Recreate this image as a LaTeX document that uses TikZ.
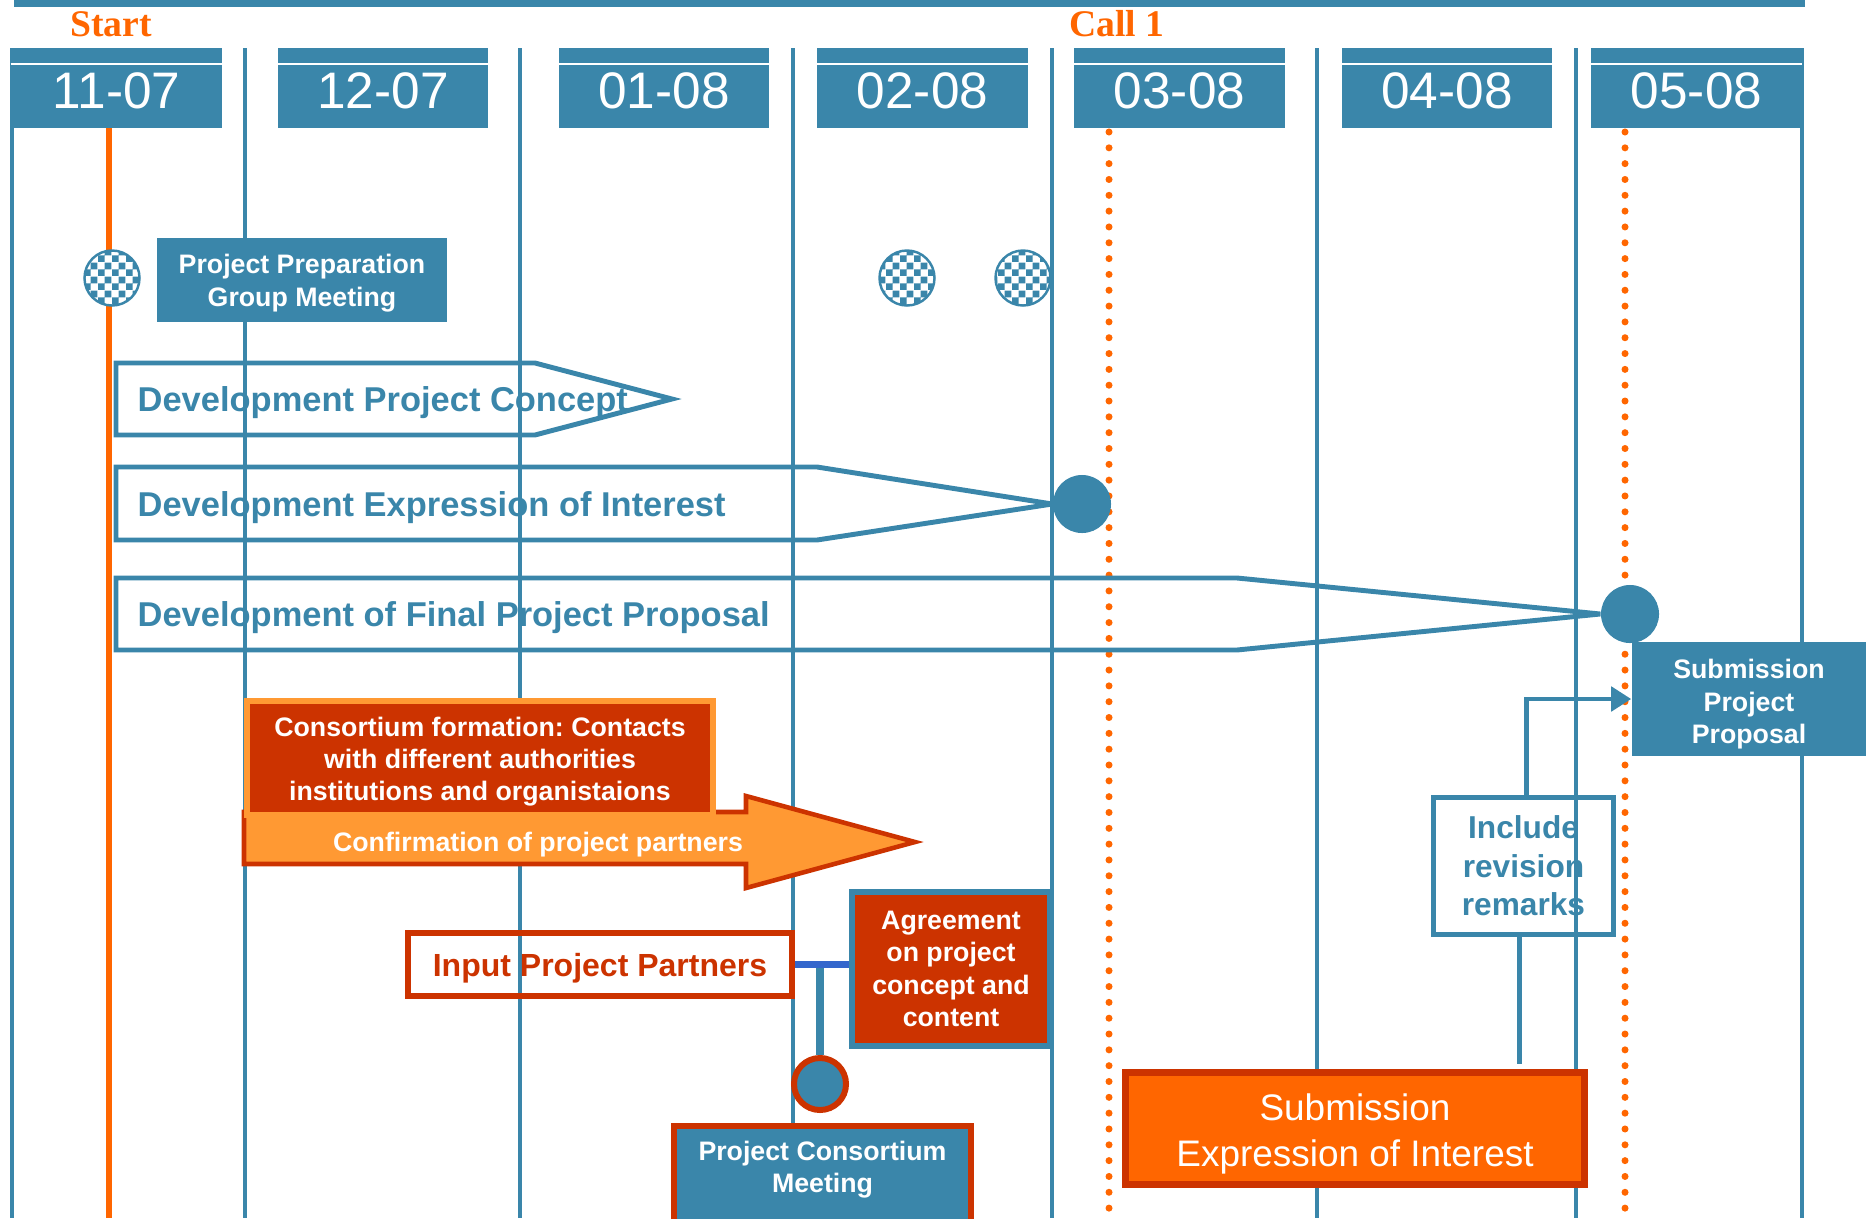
\documentclass[tikz,border=0pt]{standalone}
\usepackage{fontspec}
\setmainfont{Liberation Sans}
\newfontfamily\timesfont{Liberation Serif}
\usetikzlibrary{arrows.meta,calc,patterns}
\frenchspacing
\definecolor{steel}{RGB}{58,134,170}
\definecolor{flame}{RGB}{255,102,0}
\definecolor{brick}{RGB}{204,51,0}
\definecolor{apricot}{RGB}{255,153,51}
\definecolor{royal}{RGB}{51,102,204}
\pgfdeclarepatternformonly{finechecks}{\pgfpointorigin}{\pgfqpoint{4pt}{4pt}}{\pgfqpoint{4pt}{4pt}}{%
  \pgfpathrectangle{\pgfpointorigin}{\pgfqpoint{2pt}{2pt}}%
  \pgfpathrectangle{\pgfqpoint{2pt}{2pt}}{\pgfqpoint{2pt}{2pt}}%
  \pgfusepath{fill}}

\begin{document}
\begin{tikzpicture}[x=0.01cm,y=-0.01cm,
  month/.style={rectangle,fill=steel,text=white,minimum width=2.1cm,minimum height=0.8cm,inner sep=0pt,text height=11.9pt,text depth=0pt,font=\fontsize{14.6}{16}\selectfont},
  calltext/.style={text=flame,inner sep=0pt,font=\timesfont\bfseries\fontsize{10.7}{12}\selectfont},
  gridline/.style={steel,line width=0.9pt},
  callline/.style={flame,line width=2pt,line cap=round,dash pattern=on 0pt off 4.5pt},
  checker/.style={circle,draw=steel,line width=0.7pt,minimum size=0.55cm,inner sep=0pt,preaction={fill=white},pattern=finechecks,pattern color=steel},
  bluebox/.style={rectangle,fill=steel,text=white,align=center,inner sep=0pt,font=\bfseries\fontsize{7.6}{9.2}\selectfont},
  devshape/.style={draw=steel,line width=1.4pt},
  devtext/.style={anchor=west,text=steel,inner sep=0pt,font=\bfseries\fontsize{9.8}{11}\selectfont},
  dot/.style={circle,fill=steel,minimum size=0.58cm,inner sep=0pt}]
\useasboundingbox (0,0) rectangle (1876,1218);
\clip (0,0) rectangle (1876,1218);
\fill[steel] (14,0) rectangle (1805,7);
\node[calltext] (start) at (111,24) {Start};
\node[calltext] (call) at (1117,24) {Call 1};
\foreach \x in {12,245,520,793,1052,1317,1576,1802}
  \draw[gridline] (\x,48) -- (\x,1218);
\foreach \x/\m [count=\i] in {116.5/11-07,383/12-07,664/01-08,922.5/02-08,1179.5/03-08,1447/04-08,1696.5/05-08}{
  \node[month] (m\i) at (\x,88) {\m};
  \draw[white,line width=0.5pt] ($(m\i.north west)+(0,17)$) -- ($(m\i.north east)+(0,17)$);
}
\draw[flame,line width=1.7pt] (109,128) -- (109,1218);
\draw[callline] (1109,132) -- (1109,1218);
\draw[callline] (1625,132) -- (1625,1218);

\node[checker] (chk1) at (112,278) {};
\node[checker] (chk2) at (907,278) {};
\node[checker] (chk3) at (1023,278) {};
\node[bluebox,minimum width=2.9cm,minimum height=0.84cm] (prep) at (302,280) {\rule{0pt}{7.3pt}Project Preparation\\Group Meeting};

\node[dot] (eoidot) at (1082,504) {};
\node[dot] (propdot) at (1630,614) {};
\draw[devshape] (116,363) -- (535,363) -- (672,399) -- (535,435) -- (116,435) -- cycle;
\draw[devshape] (116,467) -- (817,467) -- (eoidot.west) -- (817,540) -- (116,540) -- cycle;
\draw[devshape] (116,578) -- (1237,578) -- (propdot.west) -- (1237,650) -- (116,650) -- cycle;
\node[devtext] (concepttxt) at (137,402.5) {Development Project Concept};
\node[devtext] (eoitxt) at (137,507.5) {Development Expression of Interest};
\node[devtext] (finaltxt) at (137,617.5) {Development of Final Project Proposal};

\draw[fill=apricot,draw=brick,line width=1.3pt] (244,812) -- (746,812) -- (746,796) -- (915,842) -- (746,888) -- (746,864) -- (244,864) -- cycle;
\node[text=white,inner sep=0pt,font=\bfseries\fontsize{7.6}{9.2}\selectfont] (confirm) at (538,845) {Confirmation of project partners};
\node[rectangle,fill=brick,draw=apricot,line width=1.7pt,minimum width=4.65cm,minimum height=1.14cm,text=white,align=center,inner sep=0pt,font=\bfseries\fontsize{7.6}{9.2}\selectfont] (consort) at (480,758) {\rule{0pt}{7.6pt}Consortium formation: Contacts\\with different authorities\\institutions and organistaions};

\node[rectangle,draw=brick,line width=1.7pt,minimum width=3.84cm,minimum height=0.63cm,text=brick,inner sep=0pt,text height=8.6pt,text depth=1.9pt,font=\bfseries\fontsize{9.1}{11}\selectfont] (input) at (600,964.5) {Input Project Partners};
\node[rectangle,fill=brick,draw=steel,line width=1.7pt,minimum width=1.98cm,minimum height=1.53cm,text=white,align=center,inner sep=0pt,font=\bfseries\fontsize{7.6}{9.2}\selectfont] (agree) at (951,969) {Agreement\\on project\\concept and\\content};
\node[circle,fill=steel,draw=brick,line width=1.7pt,minimum size=0.52cm,inner sep=0pt] (meet) at (820,1084) {};
\draw[steel,line width=2pt] (meet.north) -- (meet.north |- input.east);
\draw[royal,line width=2pt] (input.east) -- (input.east -| agree.west);
\node[rectangle,fill=steel,draw=brick,line width=1.7pt,minimum width=2.97cm,minimum height=1.2cm] (pcm) at (822.5,1186) {};
\node[bluebox] (pcmtext) at (822.5,1168) {\rule{0pt}{6.4pt}Project Consortium\\Meeting};

\node[rectangle,draw=steel,line width=1.4pt,minimum width=1.8cm,minimum height=1.37cm,text=steel,align=center,inner sep=0pt,font=\bfseries\fontsize{9}{10.9}\selectfont] (incl) at (1523.5,866) {Include\\revision\\remarks};
\node[bluebox,minimum width=2.34cm,minimum height=1.14cm] (subprop) at (1749,699) {\rule{0pt}{8.4pt}Submission\\Project\\Proposal};
\node[rectangle,fill=flame,draw=brick,line width=2pt,minimum width=4.59cm,minimum height=1.12cm,text=white,align=center,inner sep=0pt,font=\fontsize{10.5}{12.9}\selectfont] (subeoi) at (1355,1128.5) {\rule{0pt}{10.7pt}Submission\\Expression of Interest};
\draw[steel,line width=1.4pt,-{Triangle[length=0.2cm,width=0.24cm]}] ([xshift=0.03cm]incl.north) |- (subprop.west);
\draw[steel,line width=1.4pt,shorten >=0.05cm] ([xshift=-0.04cm]incl.south) -- ([xshift=-0.04cm]incl.south |- subeoi.north);
\end{tikzpicture}
\end{document}
